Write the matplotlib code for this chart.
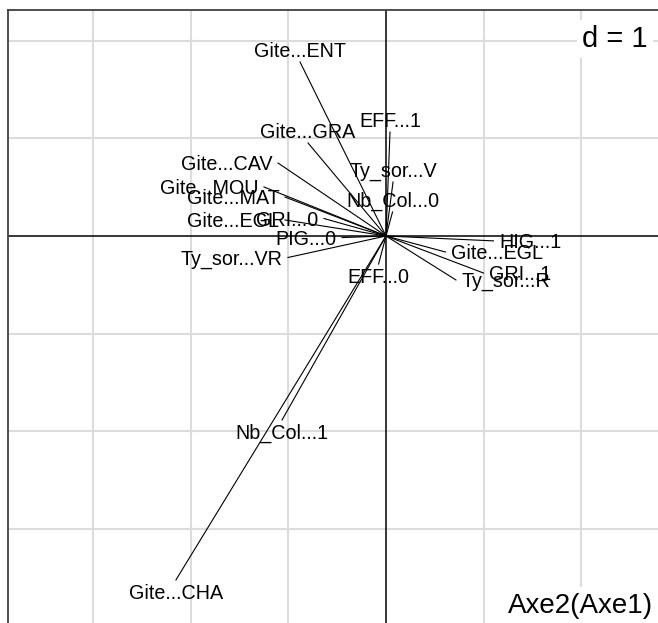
import matplotlib
matplotlib.use("Agg")
import matplotlib.pyplot as plt

# ---- data (arrow end points, in units of the d = 1 grid) ----
labels = ["Gite...ENT", "Gite...GRA", "Gite...CAV", "Gite...MOU", "Gite...MAT",
          "Gite...EGL", "GRI...0", "PIG...0", "Ty_sor...VR", "Nb_Col...0",
          "EFF...1", "Ty_sor...V", "HIG...1", "Gite...EGL", "GRI...1",
          "Ty_sor...R", "EFF...0", "Nb_Col...1", "Gite...CHA"]
xs = [-0.880, -0.798, -1.105, -1.249, -1.034,
      -1.034, -0.635, -0.450, -1.003, 0.067,
      0.041, 0.072, 1.100, 0.609, 0.998,
      0.716, -0.076, -1.064, -2.150]
ys = [1.781, 0.952, 0.747, 0.502, 0.399,
      0.164, 0.179, -0.016, -0.220, 0.246,
      1.064, 0.553, -0.050, -0.164, -0.379,
      -0.450, -0.287, -1.883, -3.520]
grid_ticks = [-3, -2, -1, 1, 2]
d_label = "d = 1"
axis_label = "Axe2(Axe1)"

plt.rcParams['font.family'] = ['Liberation Sans', 'DejaVu Sans']

W, H = 658, 623
fig = plt.figure(figsize=(W / 100, H / 100), dpi=100)
u = 97.7            # pixels per unit
ox, oy = 386, 236   # origin in pixels
lp, tp = 7.5, 10    # left / top frame in pixels
ax = fig.add_axes([lp / W, 0, 1 - lp / W, 1 - tp / H])
ax.set_xlim((lp - ox) / u, (W - ox) / u)
ax.set_ylim(-(H - oy) / u, (oy - tp) / u)
ax.set_xticks([])
ax.set_yticks([])
for s in ['right', 'bottom']:
    ax.spines[s].set_visible(False)
for s in ['left', 'top']:
    ax.spines[s].set_color('#404040')
    ax.spines[s].set_linewidth(1.3)

for g in grid_ticks:
    ax.axvline(g, color='#dcdcdc', lw=1.5, zorder=0)
    ax.axhline(g, color='#dcdcdc', lw=1.5, zorder=0)
ax.axvline(0, color='black', lw=1.1, zorder=1)
ax.axhline(0, color='black', lw=1.1, zorder=1)

fs = 14.2
pt = 0.72  # points per pixel
for lab, x, y in zip(labels, xs, ys):
    ax.plot([0, x], [0, y], color='black', lw=0.8, zorder=2)
    if x > y and x > -y:       # right
        off, ha, dy = (5.5 * pt, -7 * pt), 'left', 0
    elif x > y and x <= -y:    # bottom
        off, ha = (0, -19 * pt), 'center'
    elif x <= y and x <= -y:   # left
        off, ha = (-5.5 * pt, -7 * pt), 'right'
    else:                      # top
        off, ha = (0, 5 * pt), 'center'
    ax.annotate(lab, (x, y), xytext=off, textcoords='offset points',
                ha=ha, va='baseline', fontsize=fs, color='black', zorder=3)

fig.text(648 / W, 1 - 47 / H, d_label, ha='right', va='baseline', fontsize=21,
         bbox=dict(boxstyle='square,pad=0.18', fc='white', ec='none'))
fig.text(653 / W, 1 - 613 / H, axis_label, ha='right', va='baseline', fontsize=20,
         bbox=dict(boxstyle='square,pad=0.2', fc='white', ec='none'))

fig.savefig('out.png', dpi=100)
